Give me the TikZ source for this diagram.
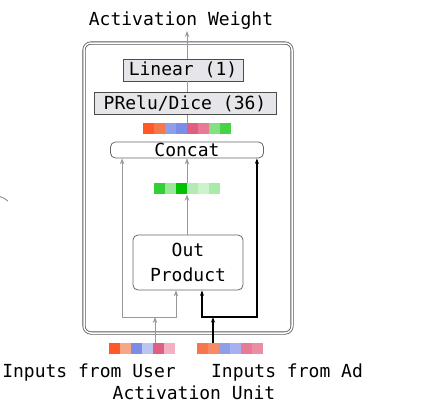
\documentclass[tikz,border=0pt]{standalone}
\usepackage{fontspec}
\setmonofont{DejaVu Sans Mono}
\usetikzlibrary{arrows.meta, positioning, calc}

\definecolor{redA}{HTML}{FF5A26}
\definecolor{redB}{HTML}{F7774C}
\definecolor{redC}{HTML}{F8A68A}
\definecolor{blueA}{HTML}{8E9EE8}
\definecolor{blueB}{HTML}{7B8DE6}
\definecolor{blueC}{HTML}{BCC4F1}
\definecolor{blueD}{HTML}{A6B1EE}
\definecolor{pinkA}{HTML}{E05E80}
\definecolor{pinkB}{HTML}{E77A96}
\definecolor{pinkC}{HTML}{F1B1C2}
\definecolor{pinkD}{HTML}{EC8DA6}
\definecolor{greenA}{HTML}{34CF34}
\definecolor{greenB}{HTML}{9AE69A}
\definecolor{greenC}{HTML}{00C200}
\definecolor{greenD}{HTML}{B4EBB4}
\definecolor{greenE}{HTML}{CDF3CD}
\definecolor{greenF}{HTML}{A8EAA8}
\definecolor{greenG}{HTML}{82E282}
\definecolor{greenH}{HTML}{46D346}
\definecolor{layerfill}{HTML}{E6E6EA}

\tikzset{
  layer/.style={draw=black!70, line width=0.8pt, fill=layerfill, inner sep=0pt, minimum height=22pt},
  block/.style={draw=black!60, line width=0.8pt, rounded corners=5pt, inner sep=0pt},
  bar/.style={inner sep=0pt, minimum height=11pt},
  grayline/.style={draw=black!40, line width=0.9pt},
  grayarrow/.style={grayline, -{Stealth[length=6pt,width=4.5pt]}},
  blackarrow/.style={draw=black, line width=1.3pt, -{Stealth[length=5.5pt,width=4pt]}}
}

\begin{document}
\begin{tikzpicture}[x=1pt, y=-1pt, font=\ttfamily\fontsize{18}{20}\selectfont]
\useasboundingbox (0,0) rectangle (423,415);

% outer unit
\node[draw=black!65, line width=0.8pt, double, double distance=1.5pt, rounded corners=7pt,
  minimum width=208pt, minimum height=290pt] (unit) at (188,188) {};

\node[inner sep=0pt] (title) at (181,21) {Activation Weight};
\node[layer, minimum width=120pt] (lin) at (183,70) {Linear (1)};
\node[layer, minimum width=182pt] (prelu) at (185,103.5) {PRelu/Dice (36)};
\node[bar, minimum width=88pt] (mix) at (187,128.5) {};
\node[block, minimum width=153pt, minimum height=16pt] (concat) at (187,150) {Concat};
\node[bar, minimum width=66pt] (gbar) at (187,189) {};
\node[block, minimum width=110pt, minimum height=55pt, align=center,
  font=\ttfamily\fontsize{18}{25}\selectfont] (outp) at (188,262.5) {Out\\Product};
\node[bar, minimum width=66pt] (ubar) at (142.5,348.5) {};
\node[bar, minimum width=66pt] (abar) at (230,348.5) {};

\node (ulabel) at (89,373) {Inputs from User};
\node (alabel) at (287,373) {Inputs from Ad};
\node (unitlabel) at (194,393) {Activation Unit};

% embedding cells
\foreach \c [count=\i] in {redA,redB,blueA,blueB,pinkA,pinkB,greenG,greenH}
  \fill[\c] ($(mix.north west)+(\i*11-11,0)$) rectangle ++(11,11);
\foreach \c [count=\i] in {greenA,greenB,greenC,greenD,greenE,greenF}
  \fill[\c] ($(gbar.north west)+(\i*11-11,0)$) rectangle ++(11,11);
\foreach \c [count=\i] in {redA,redC,blueB,blueC,pinkA,pinkC}
  \fill[\c] ($(ubar.north west)+(\i*11-11,0)$) rectangle ++(11,11);
\foreach \c [count=\i] in {redB,redB!85!white,blueA,blueD,pinkB,pinkD}
  \fill[\c] ($(abar.north west)+(\i*11-11,0)$) rectangle ++(11,11);

\coordinate (uj) at (155,317);
\coordinate (aj) at (213,317);

% connectors
\draw[grayline] (mix.north) -- (prelu.south -| mix.north);
\draw[grayline] (prelu.north -| mix.north) -- (lin.south -| mix.north);
\draw[grayarrow] (lin.north -| mix.north) -- ([yshift=-1pt]title.south -| mix.north);
\draw[grayarrow] (gbar.north) -- (concat.south);
\draw[grayarrow] (outp.north -| gbar.south) -- (gbar.south);
\draw[grayarrow] (ubar.north -| uj) -- (uj);
\draw[grayarrow] (uj) -| ([xshift=12pt]concat.south west);
\draw[grayarrow] (uj) -| ([xshift=-12pt]outp.south);
\draw[blackarrow] (abar.north -| aj) -- (aj);
\draw[blackarrow] (aj) -| ([xshift=14pt]outp.south);
\draw[blackarrow] (aj) -| ([xshift=-7pt]concat.south east);

\draw[black!50, line width=0.8pt] (0,196.5) to[bend left=10] (8,201);
\end{tikzpicture}
\end{document}
